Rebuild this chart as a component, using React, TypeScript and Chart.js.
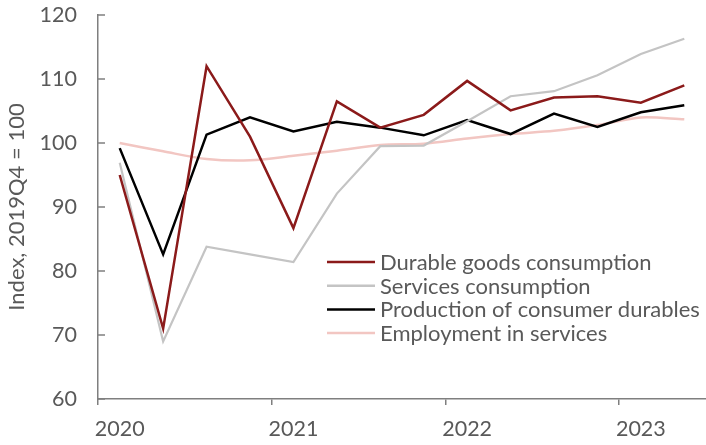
import React, { useEffect, useRef } from "react";
import { Chart, registerables } from "chart.js";

Chart.register(...registerables);

const quarters = [
  "2020Q1", "2020Q2", "2020Q3", "2020Q4",
  "2021Q1", "2021Q2", "2021Q3", "2021Q4",
  "2022Q1", "2022Q2", "2022Q3", "2022Q4",
  "2023Q1", "2023Q2",
];

const durableGoods = [95, 71, 112, 101, 86.7, 106.5, 102.4, 104.4, 109.7, 105.1, 107.1, 107.3, 106.3, 109];
const servicesConsumption = [96.9, 69, 83.8, 82.6, 81.4, 92.1, 99.5, 99.6, 103.4, 107.3, 108.1, 110.6, 113.9, 116.3];
const productionDurables = [99.2, 82.6, 101.3, 104, 101.8, 103.3, 102.4, 101.2, 103.6, 101.4, 104.6, 102.5, 104.8, 105.9];
const employmentServices = [100, 98.7, 97.5, 97.3, 98, 98.8, 99.7, 99.9, 100.7, 101.4, 101.9, 102.8, 104, 103.7];

const seriesNames = [
  "Durable goods consumption",
  "Services consumption",
  "Production of consumer durables",
  "Employment in services",
];
const seriesColors = ["#8b1a1a", "#c4c4c4", "#000000", "#f2c6c2"];

const yMin = 60;
const yMax = 120;
const yStep = 10;
const yTitle = "Index, 2019Q4 = 100";

const FONT = "Lato, 'Open Sans', sans-serif";
const TEXT = "#595959";
const AXIS = "#7f7f7f";

const legendPlugin = {
  id: "customLegend",
  afterDraw(chart: any) {
    const ctx = chart.ctx;
    const x0 = 327;
    const y0 = 262;
    const rowH = 23.7;
    ctx.save();
    ctx.font = `22px ${FONT}`;
    ctx.textBaseline = "middle";
    ctx.textAlign = "left";
    chart.data.datasets.forEach((ds: any, i: number) => {
      const y = y0 + i * rowH;
      ctx.strokeStyle = ds.borderColor;
      ctx.lineWidth = 2.5;
      ctx.beginPath();
      ctx.moveTo(x0, y);
      ctx.lineTo(x0 + 48, y);
      ctx.stroke();
      ctx.fillStyle = TEXT;
      ctx.fillText(ds.label, x0 + 53, y + 1);
    });
    ctx.restore();
  },
};

const yTickPlugin = {
  id: "yInwardTicks",
  afterDraw(chart: any) {
    const ctx = chart.ctx;
    const ys = chart.scales.y;
    const left = chart.chartArea.left;
    ctx.save();
    ctx.strokeStyle = AXIS;
    ctx.lineWidth = 1.5;
    ys.ticks.forEach((t: any) => {
      const p = ys.getPixelForValue(t.value);
      ctx.beginPath();
      ctx.moveTo(left, p);
      ctx.lineTo(left + 7, p);
      ctx.stroke();
    });
    ctx.restore();
  },
};

export default function App() {
  const ref = useRef<HTMLCanvasElement>(null);

  useEffect(() => {
    if (!ref.current) return;
    const data = [durableGoods, servicesConsumption, productionDurables, employmentServices];
    const chart = new Chart(ref.current, {
      type: "line",
      data: {
        labels: quarters,
        datasets: data.map((d, i) => ({
          label: seriesNames[i],
          data: d,
          borderColor: seriesColors[i],
          backgroundColor: seriesColors[i],
          borderWidth: i === 1 ? 2.2 : 2.5,
          pointRadius: 0,
          tension: i === 3 ? 0.3 : 0,
          fill: false,
        })),
      },
      options: {
        animation: false,
        responsive: true,
        maintainAspectRatio: false,
        layout: { padding: { top: 15, right: 0, left: 0, bottom: 0 } },
        plugins: {
          legend: { display: false },
          tooltip: { enabled: false },
        },
        scales: {
          x: {
            type: "category",
            offset: true,
            grid: {
              offset: true,
              drawOnChartArea: false,
              drawTicks: true,
              tickLength: 6,
              lineWidth: 1.5,
              color: (c: any) => (c.index % 4 === 0 && c.index < quarters.length ? AXIS : "rgba(0,0,0,0)"),
            },
            border: { display: true, color: AXIS, width: 1.5 },
            ticks: {
              autoSkip: false,
              maxRotation: 0,
              padding: 11,
              color: TEXT,
              font: { family: FONT, size: 21.5 },
              callback: (_v: any, i: number) => (i % 4 === 0 ? quarters[i].slice(0, 4) : ""),
            },
            afterFit: (s: any) => {
              s.height = 46;
              s.paddingLeft = 0;
              s.paddingRight = 0;
            },
          },
          y: {
            min: yMin,
            max: yMax,
            grid: { display: true, drawOnChartArea: false, drawTicks: false },
            border: { display: true, color: AXIS, width: 1.5 },
            ticks: {
              stepSize: yStep,
              padding: 21,
              color: TEXT,
              font: { family: FONT, size: 21.5 },
            },
            title: {
              display: true,
              text: yTitle,
              color: TEXT,
              font: { family: FONT, size: 22 },
              padding: { top: 4, bottom: 0 },
            },
            afterFit: (s: any) => {
              s.width = 98;
              s.paddingTop = 0;
              s.paddingBottom = 0;
            },
          },
        },
      },
      plugins: [legendPlugin, yTickPlugin],
    });
    return () => chart.destroy();
  }, []);

  return (
    <div style={{ position: "absolute", left: 0, top: 0, width: 706, height: 445, background: "#fff" }}>
      <canvas ref={ref} />
    </div>
  );
}
